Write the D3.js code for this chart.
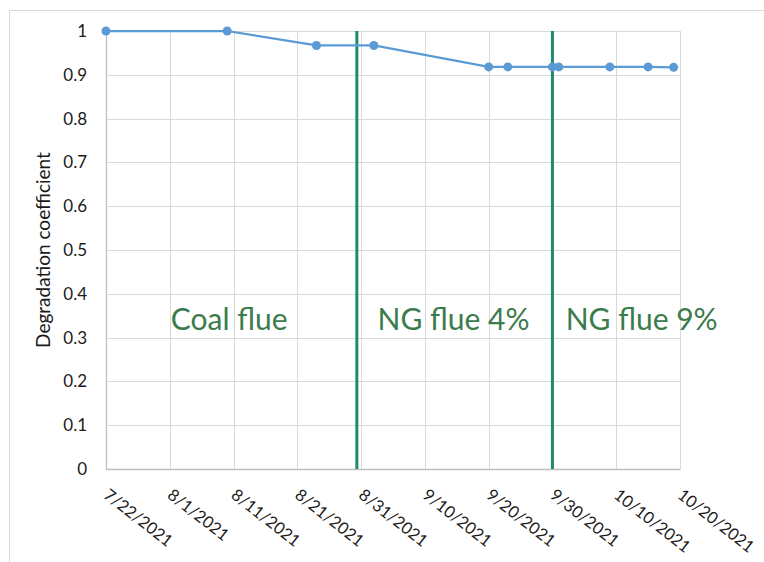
<!DOCTYPE html>
<html>
<head>
<meta charset="utf-8">
<script src="https://cdn.jsdelivr.net/npm/d3@7"></script>
<style>
  body { margin: 0; background: #fff; }
  svg text { font-family: Lato, "Open Sans", sans-serif; }
</style>
</head>
<body>
<div id="chart"></div>
<script>
// sample dates and measured coefficients
const sampleDates = ["2021-07-22", "2021-08-10", "2021-08-24", "2021-09-02", "2021-09-20",
  "2021-09-23", "2021-09-30", "2021-10-01", "2021-10-09", "2021-10-15", "2021-10-19"];
const coefficients = [1, 1, 0.967, 0.967, 0.918, 0.918, 0.918, 0.918, 0.918, 0.918, 0.917];

// switch-over dates between flue gas types
const switchDates = ["2021-08-30T08:00", "2021-09-30T00:00"];

const phaseLabels = ["Coal flue", "NG flue 4%", "NG flue 9%"];
const phaseLabelDates = ["2021-08-01T04:00", "2021-09-02T14:00", "2021-10-02T02:00"];
const phaseLabelValue = 0.317;

const xTickDates = ["2021-07-22", "2021-08-01", "2021-08-11", "2021-08-21", "2021-08-31",
  "2021-09-10", "2021-09-20", "2021-09-30", "2021-10-10", "2021-10-20"];
const yTicks = [0, 0.1, 0.2, 0.3, 0.4, 0.5, 0.6, 0.7, 0.8, 0.9, 1];

const parse = s => new Date(s.length === 10 ? s + "T00:00" : s);

const W = 764, H = 562;
const margin = ({top: 31, right: 84, bottom: 93, left: 106});
const width = W - margin.left - margin.right;
const height = H - margin.top - margin.bottom;

const x = d3.scaleTime()
  .domain([parse(xTickDates[0]), parse(xTickDates[xTickDates.length - 1])])
  .range([0, width]);
const y = d3.scaleLinear()
  .domain([0, 1])
  .range([height, 0]);

const svg = d3.select("#chart")
  .append("svg")
  .attr("width", W)
  .attr("height", H);

// outer chart border
svg.append("rect")
  .attr("x", 9.5).attr("y", 10.5)
  .attr("width", W).attr("height", H)
  .attr("fill", "none")
  .attr("stroke", "#d9d9d9");

const g = svg.append("g")
  .attr("transform", `translate(${margin.left}, ${margin.top})`);

// gridlines
g.append("g")
  .selectAll("line")
  .data(yTicks)
  .join("line")
  .attr("x1", 0).attr("x2", width)
  .attr("y1", d => Math.round(y(d)) + 0.5).attr("y2", d => Math.round(y(d)) + 0.5)
  .attr("stroke", "#d9d9d9")
  .attr("stroke-width", 1);

g.append("g")
  .selectAll("line")
  .data(xTickDates.map(parse))
  .join("line")
  .attr("x1", d => Math.round(x(d)) + 0.5).attr("x2", d => Math.round(x(d)) + 0.5)
  .attr("y1", 0).attr("y2", height)
  .attr("stroke", "#d9d9d9")
  .attr("stroke-width", 1);

// axes
const fmt = d3.timeFormat("%-m/%-d/%Y");
const xAxis = d3.axisBottom(x)
  .tickValues(xTickDates.map(parse))
  .tickFormat(fmt)
  .tickSize(0);
const gx = g.append("g")
  .attr("class", "x-axis")
  .attr("transform", `translate(0, ${height})`)
  .call(xAxis);
gx.select(".domain").attr("stroke", "#bfbfbf").attr("stroke-width", 1.3);
gx.selectAll("text")
  .attr("y", 0).attr("dy", 0)
  .attr("transform", "translate(-4,28)rotate(38)")
  .style("text-anchor", "start")
  .style("font-size", "16.5px")
  .style("fill", "#1a1a1a");

const yAxis = d3.axisLeft(y)
  .tickValues(yTicks)
  .tickFormat(d => d3.format("~g")(d))
  .tickSize(0)
  .tickPadding(19);
const gy = g.append("g")
  .attr("class", "y-axis")
  .call(yAxis);
gy.select(".domain").attr("stroke", "#bfbfbf").attr("stroke-width", 1.3);
gy.selectAll("text")
  .style("font-size", "17px")
  .style("fill", "#1a1a1a");

// axis title
svg.append("text")
  .attr("transform", `translate(50, ${margin.top + height / 2}) rotate(-90)`)
  .attr("text-anchor", "middle")
  .style("font-size", "19px")
  .style("fill", "#1a1a1a")
  .text("Degradation coefficient");

// switch lines
g.append("g")
  .selectAll("line")
  .data(switchDates.map(parse))
  .join("line")
  .attr("x1", d => x(d)).attr("x2", d => x(d))
  .attr("y1", y(1)).attr("y2", height)
  .attr("stroke", "#1e8c6e")
  .attr("stroke-width", 3);

// series
const data = sampleDates.map((d, i) => [parse(d), coefficients[i]]);
const line = d3.line()
  .x(d => x(d[0]))
  .y(d => y(d[1]));

g.append("path")
  .datum(data)
  .attr("fill", "none")
  .attr("stroke", "#5b9bd5")
  .attr("stroke-width", 2.25)
  .attr("d", line);

g.append("g")
  .selectAll("circle")
  .data(data)
  .join("circle")
  .attr("cx", d => x(d[0]))
  .attr("cy", d => y(d[1]))
  .attr("r", 4.5)
  .attr("fill", "#5b9bd5");

// phase labels
g.append("g")
  .selectAll("text")
  .data(phaseLabels)
  .join("text")
  .attr("x", (d, i) => x(parse(phaseLabelDates[i])))
  .attr("y", y(phaseLabelValue))
  .style("font-size", "30px")
  .style("fill", "#3b7b4d")
  .text(d => d);
</script>
</body>
</html>
